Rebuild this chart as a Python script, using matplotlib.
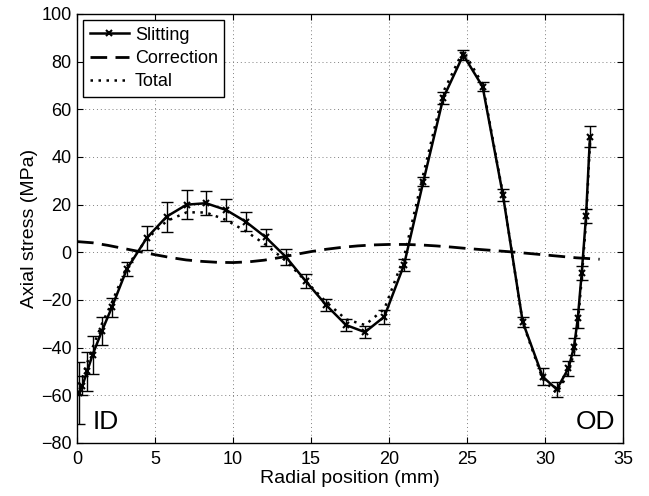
import numpy as np
import matplotlib
matplotlib.use("Agg")
import matplotlib.pyplot as plt

plt.rcParams['font.family'] = ['Liberation Sans', 'DejaVu Sans']

slit_x = [0.1, 0.35, 0.65, 1.0, 1.6, 2.24, 3.2, 4.47, 5.75, 7.03, 8.27, 9.55,
          10.83, 12.1, 13.4, 14.65, 15.95, 17.24, 18.46, 19.7, 20.96, 22.2,
          23.48, 24.76, 26.0, 27.3, 28.57, 29.85, 30.75, 31.5, 31.86, 32.1,
          32.35, 32.63, 32.88]
slit_y = [-59, -56, -50, -43, -33, -23, -7, 6, 15, 20, 20.6, 17.8,
          12.8, 6.3, -2, -12, -22, -30.5, -33.5, -27, -5.3, 29.7,
          64.8, 82.8, 69.5, 24.1, -29.2, -52.2, -57.5, -48.7, -39.6, -27.7,
          -8.8, 15.3, 48.5]
slit_err = [13, 4, 8, 8, 6, 4, 2.8, 4.9, 6.3, 6, 5, 4.5,
            4, 3.5, 3.5, 3, 2.5, 2.5, 2.5, 3, 2.5, 2,
            2.5, 2, 2, 2.5, 2, 3.5, 3, 3, 3.5, 4,
            3, 3, 4.5]

# correction curve
corr_x = [0, 1, 2, 3, 4, 5, 6, 7, 8, 9, 10, 11, 12, 13, 14, 15, 16, 17, 18,
          19, 20, 21, 22, 23, 24, 25, 26, 27, 28, 29, 30, 31, 32, 33, 33.5]
corr_y = [4.5, 4.0, 2.9, 1.6, 0.3, -1.0, -2.2, -3.2, -3.8, -4.2, -4.3, -4.0,
          -3.3, -2.2, -0.9, 0.3, 1.3, 2.1, 2.7, 3.1, 3.3, 3.3, 3.1, 2.7, 2.2,
          1.6, 1.1, 0.6, 0.1, -0.5, -1.1, -1.7, -2.3, -2.7, -2.9]

# total (slitting + correction)
total_y = [-55.5, -52.5, -46.5, -40, -30, -21, -6, 5.6, 13.1, 16.8,
           16.7, 13.6, 8.8, 3.2, -3.6, -12, -20.7, -28.1, -30.5, -23.8, -2,
           32.8, 67.3, 84.6, 70.5, 24.5, -29.5, -53.2, -59.1, -50.7, -41.8,
           -30, -11.2, 12.8, 45.9]

fig = plt.figure(figsize=(6.49, 4.96), dpi=100)
ax = fig.add_axes([0.1186, 0.1069, 0.8414, 0.8649])

ax.errorbar(slit_x, slit_y, yerr=slit_err, fmt="none", ecolor="black",
            elinewidth=1.0, capsize=4, capthick=1.0)
ax.plot(slit_x, slit_y, "-", color="black", lw=1.8, marker="x", ms=4,
        mew=1.5, label="Slitting")
ax.plot(corr_x, corr_y, color="black", lw=2.0, dashes=(6, 3),
        label="Correction")
ax.plot(slit_x, total_y, color="black", lw=1.8, dashes=(1, 2.2),
        label="Total")

ax.text(1.0, -71, "ID", fontsize=19, va="center", ha="left")
ax.text(34.5, -71, "OD", fontsize=19, va="center", ha="right")

ax.set_xlim(0, 35)
ax.set_ylim(-80, 100)
ax.set_xticks(np.arange(0, 36, 5))
ax.set_yticks(np.arange(-80, 101, 20))
ax.grid(True, linestyle=(0, (1, 3)), color="gray", lw=0.7)
ax.tick_params(direction="in", top=True, right=True, labelsize=13, length=4)
ax.tick_params(axis="x", pad=6)
ax.tick_params(axis="y", pad=4)
for s in ax.spines.values():
    s.set_linewidth(1.0)

ax.set_xlabel("Radial position (mm)", fontsize=14, labelpad=1)
ax.set_ylabel("Axial stress (MPa)", fontsize=14, labelpad=2)

leg = ax.legend(loc="upper left", fontsize=13, fancybox=False,
                edgecolor="black", framealpha=1, handlelength=2.2,
                handletextpad=0.3, labelspacing=0.35, borderpad=0.35,
                borderaxespad=0.35)
leg.get_frame().set_linewidth(1.0)

fig.savefig("out.png", dpi=100)
